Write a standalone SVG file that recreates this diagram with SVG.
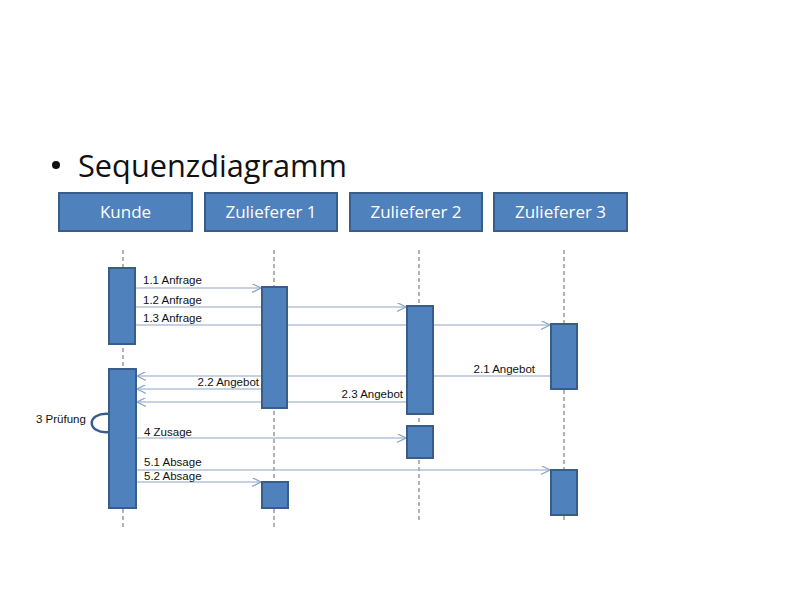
<svg xmlns="http://www.w3.org/2000/svg" width="800" height="600" viewBox="0 0 800 600">
<defs>
<style>
.hdr{fill:#4F81BD;stroke:#385D8A;stroke-width:2}
.hdrt{fill:#fff;font-family:"Open Sans","Liberation Sans",sans-serif;font-size:17px;text-anchor:middle}
.act{fill:#4F81BD;stroke:#385D8A;stroke-width:2}
.life{stroke:#666;stroke-width:1;stroke-dasharray:4,3;fill:none}
.msg{stroke:#8EA6C6;stroke-width:1.2;fill:none;marker-end:url(#arr)}
.lbl{fill:#111;font-family:"Liberation Sans",Arial,sans-serif;font-size:11.5px}
</style>
<marker id="arr" viewBox="0 0 10 10" refX="10" refY="5" markerWidth="9" markerHeight="9" markerUnits="userSpaceOnUse" orient="auto">
<path d="M0,0 L10,5 L0,10" fill="none" stroke="#8EA6C6" stroke-width="1.3"/>
</marker>
</defs>
<rect width="800" height="600" fill="#fff"/>
<g id="title">
<circle cx="56" cy="165" r="4" fill="#111"/>
<text x="78" y="177" font-family="'Open Sans','Liberation Sans',sans-serif" font-size="31" fill="#111" textLength="269" lengthAdjust="spacingAndGlyphs">Sequenzdiagramm</text>
</g>
<g id="lifelines">
<line class="life" x1="123" y1="250" x2="123" y2="527"/>
<line class="life" x1="274" y1="250" x2="274" y2="527"/>
<line class="life" x1="419" y1="250" x2="419" y2="521"/>
<line class="life" x1="564" y1="250" x2="564" y2="520"/>
</g>
<g id="connectors">
<line class="msg" x1="136" y1="288" x2="261" y2="288"/>
<line class="msg" x1="136" y1="307" x2="406" y2="307"/>
<line class="msg" x1="136" y1="325" x2="550" y2="325"/>
<line class="msg" x1="550" y1="376" x2="137" y2="376"/>
<line class="msg" x1="262" y1="389" x2="137" y2="389"/>
<line class="msg" x1="407" y1="402" x2="137" y2="402"/>
<path d="M109,414 C86,412 86,434 109,432" fill="none" stroke="#385D8A" stroke-width="2.5"/>
<line class="msg" x1="137" y1="438" x2="406" y2="438"/>
<line class="msg" x1="137" y1="470" x2="550" y2="470"/>
<line class="msg" x1="137" y1="482" x2="261" y2="482"/>
</g>
<g id="kunde"><rect class="hdr" x="59" y="193" width="133" height="38"/><text class="hdrt" x="125.5" y="218">Kunde</text>
<rect class="act" x="109" y="268" width="26" height="76"/>
<rect class="act" x="109" y="369" width="27" height="139"/></g>
<g id="zulieferer1"><rect class="hdr" x="205" y="193" width="132" height="38"/><text class="hdrt" x="271" y="218">Zulieferer 1</text>
<rect class="act" x="262" y="287" width="25" height="121"/>
<rect class="act" x="262" y="482" width="26" height="26"/></g>
<g id="zulieferer2"><rect class="hdr" x="350" y="193" width="132" height="38"/><text class="hdrt" x="416" y="218">Zulieferer 2</text>
<rect class="act" x="407" y="306" width="26" height="108"/>
<rect class="act" x="407" y="426" width="26" height="32"/></g>
<g id="zulieferer3"><rect class="hdr" x="494" y="193" width="133" height="38"/><text class="hdrt" x="560.5" y="218">Zulieferer 3</text>
<rect class="act" x="551" y="324" width="26" height="65"/>
<rect class="act" x="551" y="470" width="26" height="45"/></g>
<g id="labels">
<text class="lbl" x="143" y="284">1.1 Anfrage</text>
<text class="lbl" x="143" y="304">1.2 Anfrage</text>
<text class="lbl" x="143" y="322">1.3 Anfrage</text>
<text class="lbl" x="535" y="373" text-anchor="end">2.1 Angebot</text>
<text class="lbl" x="259" y="386" text-anchor="end">2.2 Angebot</text>
<text class="lbl" x="403" y="398" text-anchor="end">2.3 Angebot</text>
<text class="lbl" x="36" y="423">3 Prüfung</text>
<text class="lbl" x="144" y="436">4 Zusage</text>
<text class="lbl" x="144" y="466">5.1 Absage</text>
<text class="lbl" x="144" y="480">5.2 Absage</text>
</g>
</svg>
